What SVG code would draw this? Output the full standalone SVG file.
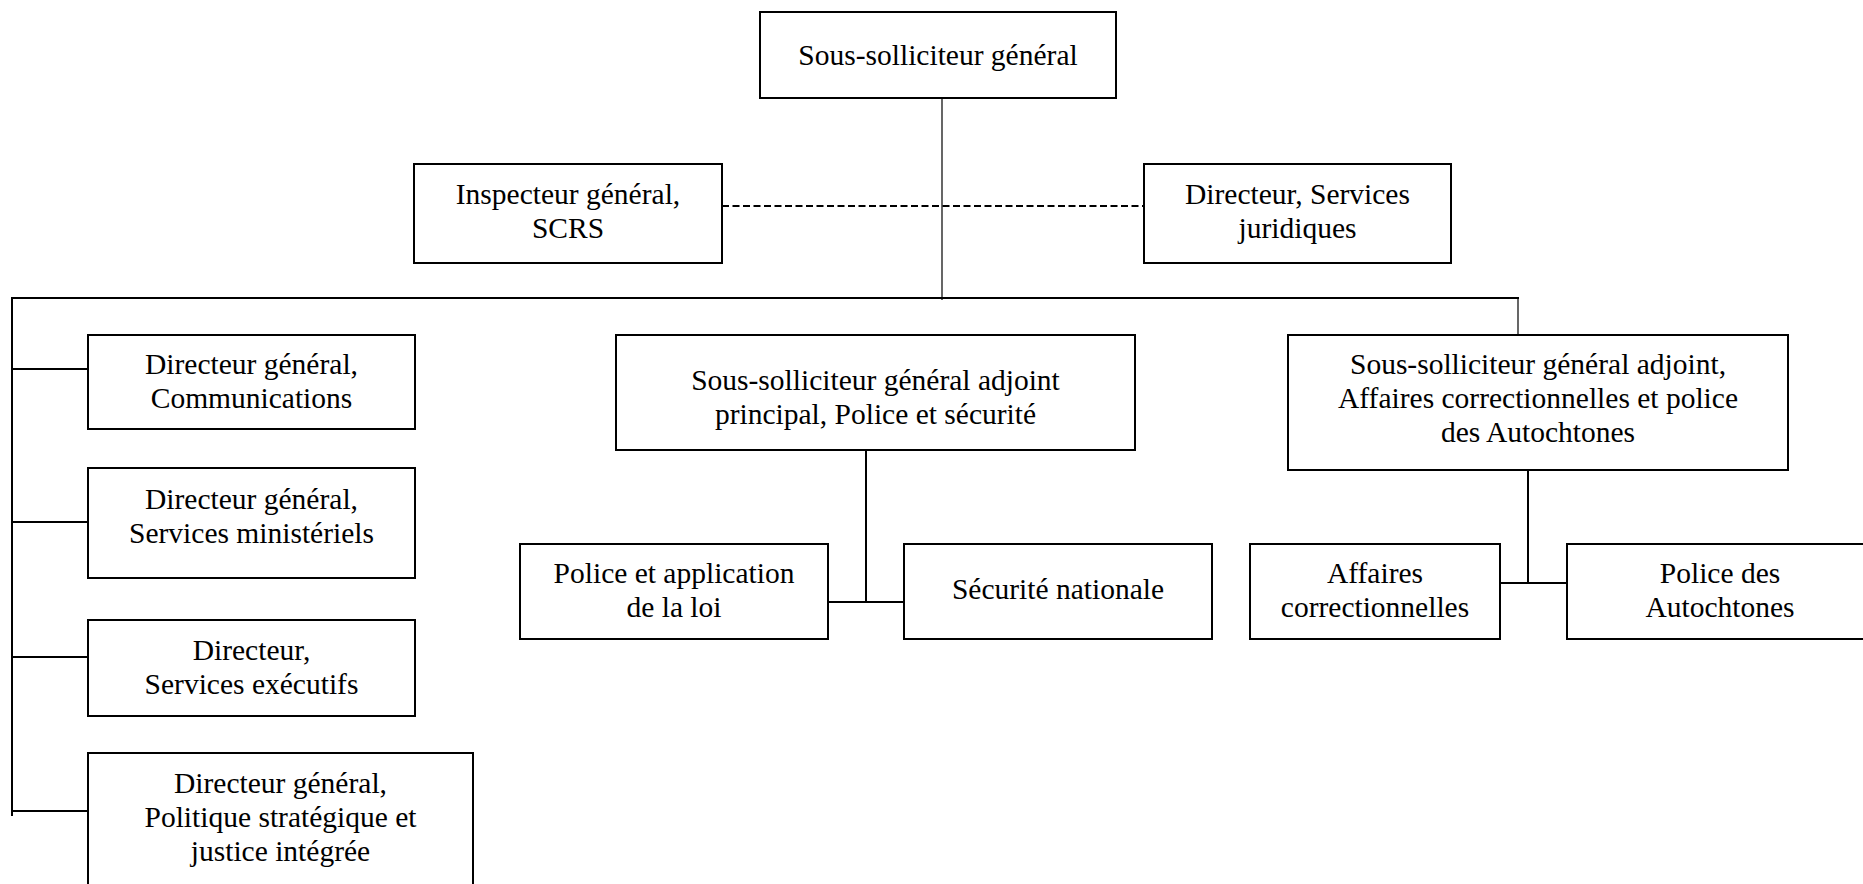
<svg xmlns="http://www.w3.org/2000/svg" width="1863" height="884" viewBox="0 0 1863 884">
<style>
.box{fill:#fff;stroke:#000;stroke-width:2}
.t{font-family:"Liberation Serif","Times New Roman",serif;font-size:29.5px;fill:#000;text-anchor:middle}
.ln{stroke:#000;stroke-width:2;fill:none}
.thin{stroke:#000;stroke-width:1.2;fill:none}
.dash{stroke:#000;stroke-width:2;fill:none;stroke-dasharray:7 3.5}
</style>
<rect width="1863" height="884" fill="#fff"/>
<g id="connectors">
<line class="thin" x1="942" y1="98" x2="942" y2="300"/>
<line class="dash" x1="722" y1="206" x2="1144" y2="206"/>
<line class="ln" x1="11" y1="298" x2="1519" y2="298"/>
<line class="thin" x1="1518" y1="298" x2="1518" y2="335"/>
<line class="ln" x1="12" y1="297" x2="12" y2="816"/>
<line class="ln" x1="12" y1="369" x2="88" y2="369"/>
<line class="ln" x1="12" y1="522" x2="88" y2="522"/>
<line class="ln" x1="12" y1="657" x2="88" y2="657"/>
<line class="ln" x1="12" y1="811" x2="88" y2="811"/>
<line class="ln" x1="866" y1="450" x2="866" y2="603"/>
<line class="ln" x1="828" y1="602" x2="904" y2="602"/>
<line class="ln" x1="1528" y1="470" x2="1528" y2="584"/>
<line class="ln" x1="1500" y1="583" x2="1567" y2="583"/>
</g>
<g id="n-top">
<rect class="box" x="760" y="12" width="356" height="86"/>
<text class="t" x="938" y="65">Sous-solliciteur général</text>
</g>
<g id="n-inspecteur">
<rect class="box" x="414" y="164" width="308" height="99"/>
<text class="t" x="568" y="204">Inspecteur général,</text>
<text class="t" x="568" y="238">SCRS</text>
</g>
<g id="n-juridiques">
<rect class="box" x="1144" y="164" width="307" height="99"/>
<text class="t" x="1297.5" y="204">Directeur, Services</text>
<text class="t" x="1297.5" y="238">juridiques</text>
</g>
<g id="n-communications">
<rect class="box" x="88" y="335" width="327" height="94"/>
<text class="t" x="251.5" y="374">Directeur général,</text>
<text class="t" x="251.5" y="408">Communications</text>
</g>
<g id="n-ministeriels">
<rect class="box" x="88" y="468" width="327" height="110"/>
<text class="t" x="251.5" y="509">Directeur général,</text>
<text class="t" x="251.5" y="543">Services ministériels</text>
</g>
<g id="n-executifs">
<rect class="box" x="88" y="620" width="327" height="96"/>
<text class="t" x="251.5" y="660">Directeur,</text>
<text class="t" x="251.5" y="694">Services exécutifs</text>
</g>
<g id="n-politique">
<rect class="box" x="88" y="753" width="385" height="140"/>
<text class="t" x="280.5" y="793">Directeur général,</text>
<text class="t" x="280.5" y="827">Politique stratégique et</text>
<text class="t" x="280.5" y="861">justice intégrée</text>
</g>
<g id="n-police-securite">
<rect class="box" x="616" y="335" width="519" height="115"/>
<text class="t" x="875.5" y="390">Sous-solliciteur général adjoint</text>
<text class="t" x="875.5" y="424">principal, Police et sécurité</text>
</g>
<g id="n-application-loi">
<rect class="box" x="520" y="544" width="308" height="95"/>
<text class="t" x="674" y="583">Police et application</text>
<text class="t" x="674" y="617">de la loi</text>
</g>
<g id="n-securite-nationale">
<rect class="box" x="904" y="544" width="308" height="95"/>
<text class="t" x="1058" y="599">Sécurité nationale</text>
</g>
<g id="n-correctionnelles-autochtones">
<rect class="box" x="1288" y="335" width="500" height="135"/>
<text class="t" x="1538" y="374">Sous-solliciteur général adjoint,</text>
<text class="t" x="1538" y="408">Affaires correctionnelles et police</text>
<text class="t" x="1538" y="442">des Autochtones</text>
</g>
<g id="n-affaires-correctionnelles">
<rect class="box" x="1250" y="544" width="250" height="95"/>
<text class="t" x="1375" y="583">Affaires</text>
<text class="t" x="1375" y="617">correctionnelles</text>
</g>
<g id="n-police-autochtones">
<rect class="box" x="1567" y="544" width="310" height="95"/>
<text class="t" x="1720" y="583">Police des</text>
<text class="t" x="1720" y="617">Autochtones</text>
</g>
</svg>
